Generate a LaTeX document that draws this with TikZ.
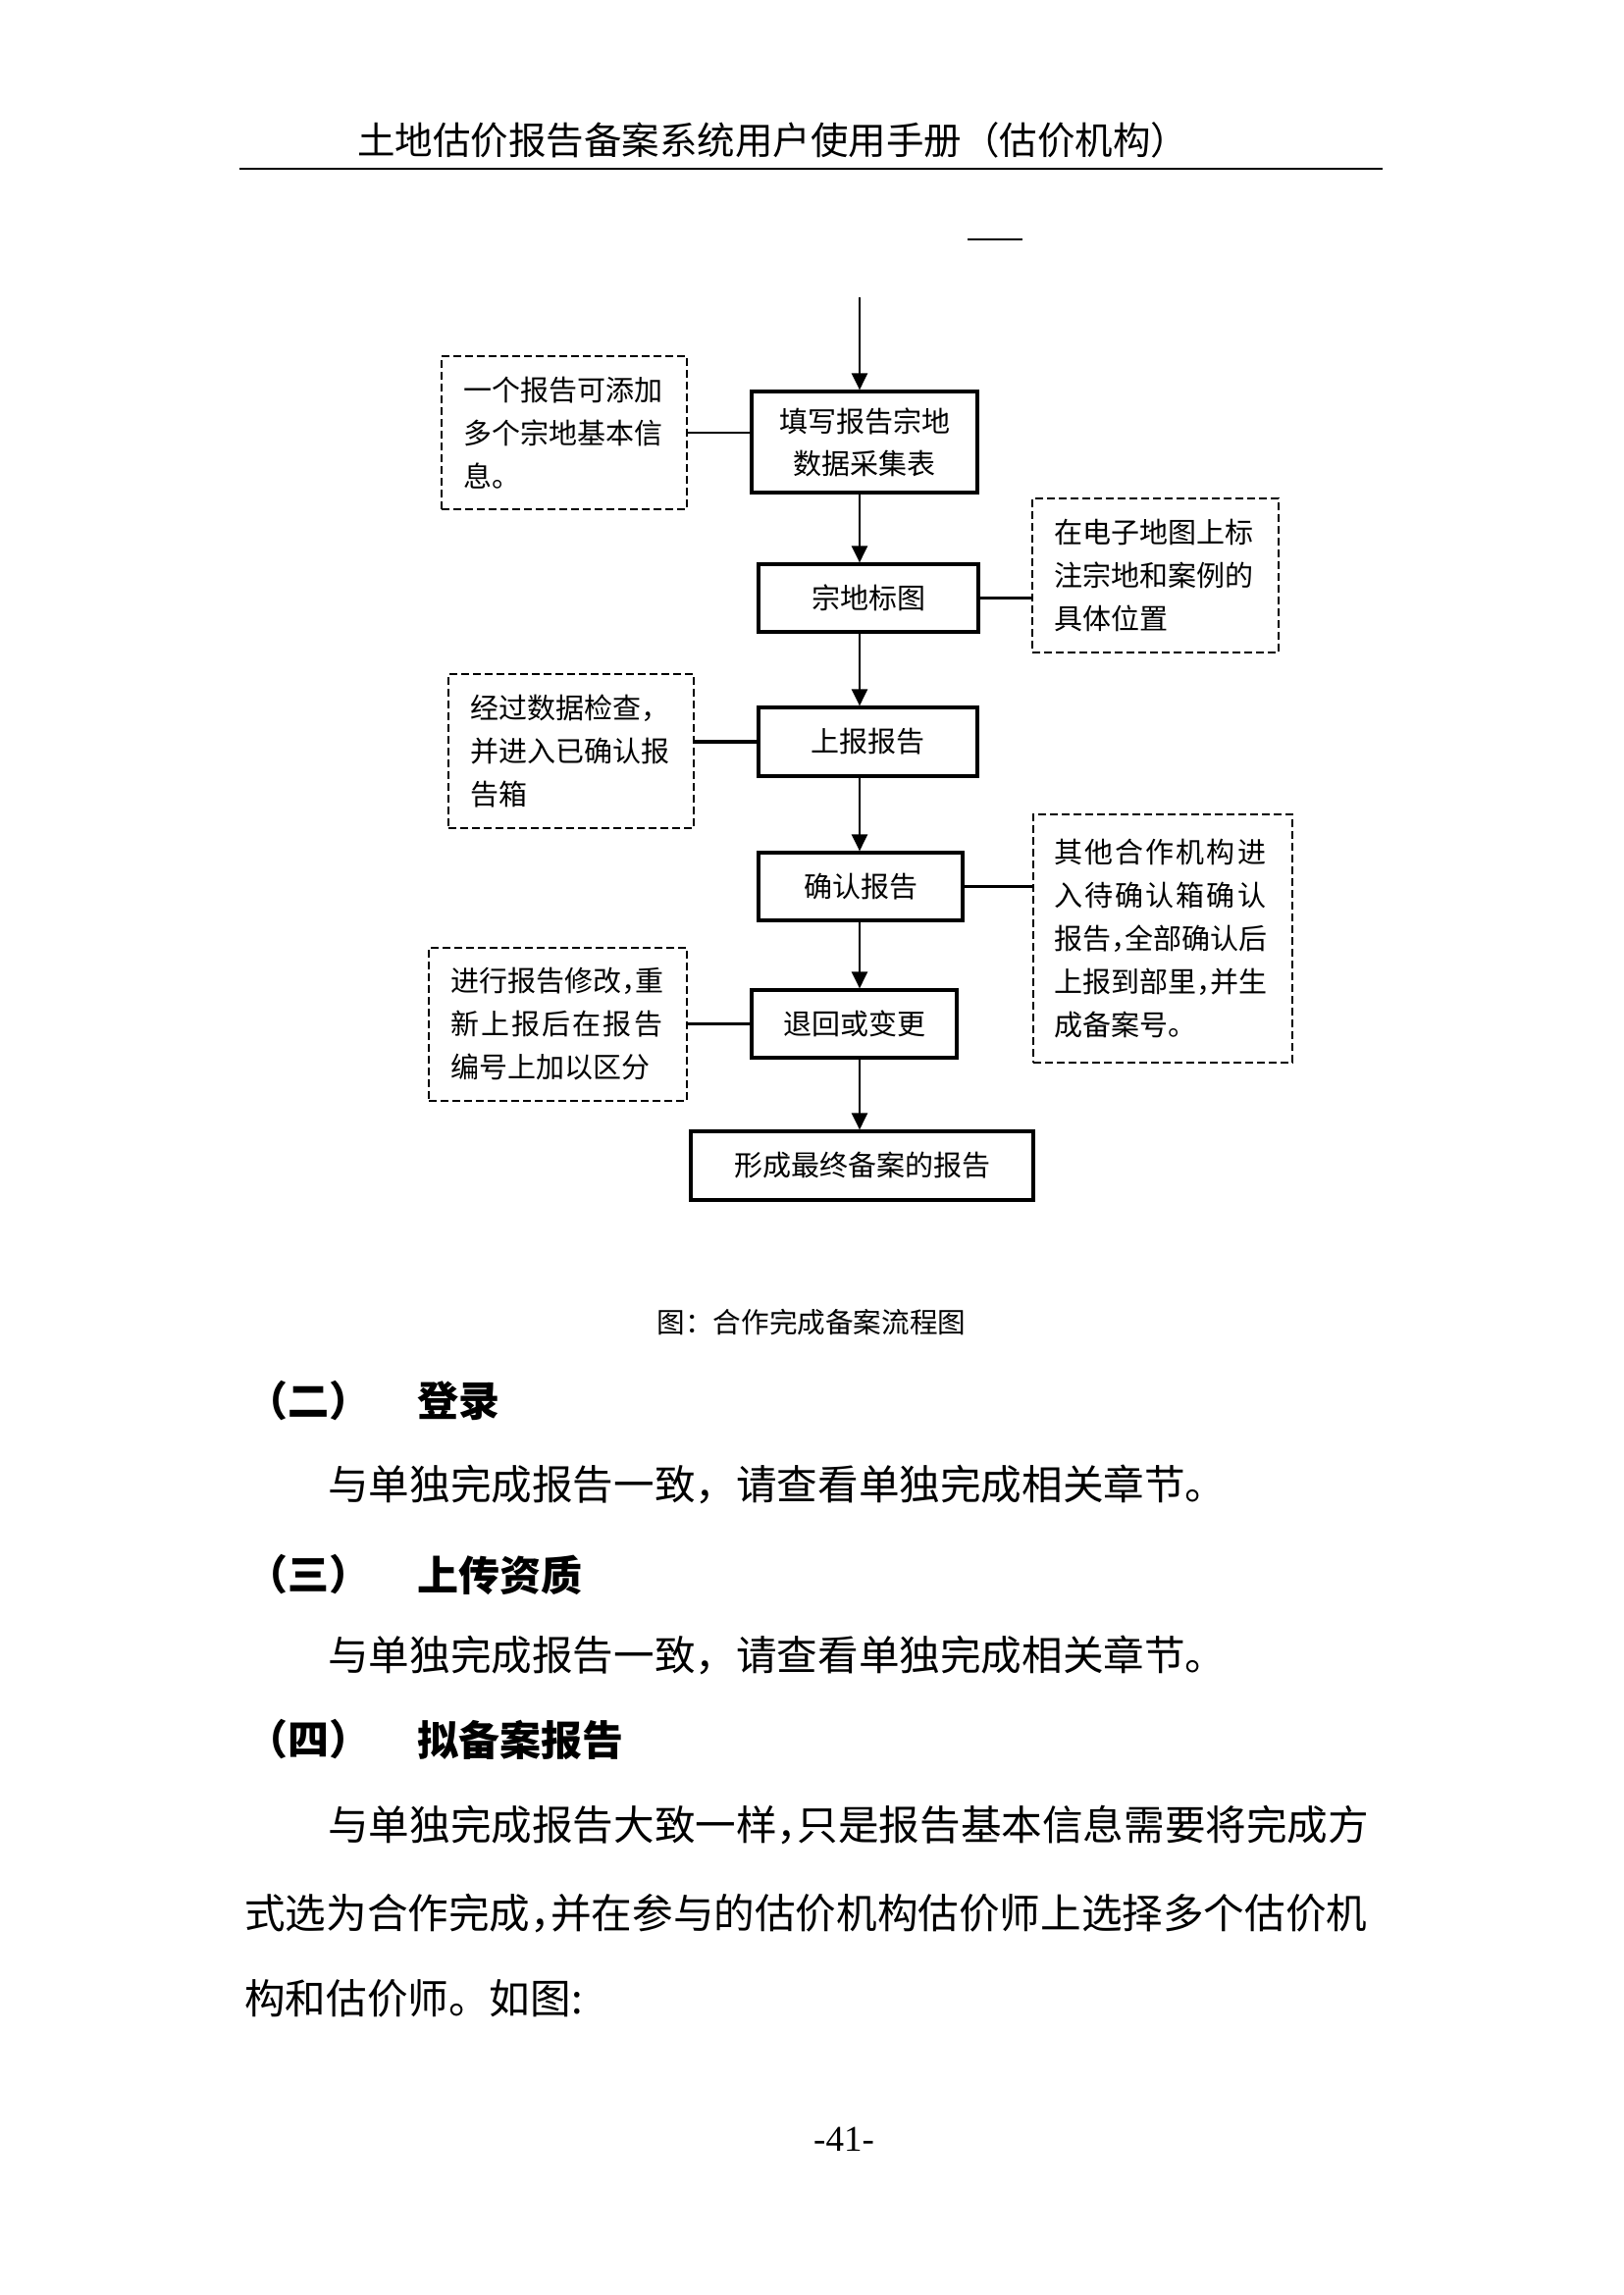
\documentclass[tikz,border=0pt]{standalone}
\usepackage{fontspec}
\setmainfont{Noto Sans CJK SC}
\newfontfamily\numfont{Liberation Serif}
\usetikzlibrary{arrows.meta, positioning}

\newcommand\hcomma{\makebox[0.5em][l]{，}}
\newcommand\spreadline[2][7.5]{{\addfontfeature{LetterSpace=#1}#2}}

\begin{document}
\begin{tikzpicture}[x=1pt, y=-1pt, >={Triangle[length=17pt, width=16pt]},
   flowbox/.style={draw, line width=3.2pt, inner sep=0pt, align=center,
                   font=\fontsize{29}{43}\selectfont},
   remark/.style={draw, dash pattern=on 8pt off 4pt, line width=2.8pt, align=left,
                  inner xsep=22pt, inner ysep=0pt, font=\fontsize{29}{44}\selectfont},
   joinline/.style={line width=2.3pt},
   flowarrow/.style={->, line width=2.3pt},
   secthead/.style={anchor=west, inner sep=0pt, font=\fontsize{42}{44}\selectfont\bfseries},
   bodytext/.style={anchor=west, inner sep=0pt, font=\fontsize{41.6}{44}\selectfont}]

   \path[use as bounding box, fill=white] (0,0) rectangle (1654,2339);

   % Page head
      \node[anchor=west, inner sep=0pt, font=\fontsize{38.5}{40}\selectfont] (title) at (364,143)
           {土地估价报告备案系统用户使用手册（估价机构）};
      \draw[line width=2.5pt] (244,172) -- (1409,172);
      \draw[line width=2.5pt] (986,244) -- (1042,244);

   % Nodes
      \coordinate (top) at (876,303);
      \node[flowbox, minimum width=230pt, minimum height=103pt] (fill)    at (881,450.5) {填写报告宗地\\数据采集表};
      \node[flowbox, minimum width=224pt, minimum height=69pt]  (mark)    at (885,609.5) {宗地标图};
      \node[flowbox, minimum width=223pt, minimum height=70pt]  (submit)  at (884.5,756)  {上报报告};
      \node[flowbox, minimum width=208pt, minimum height=69pt]  (confirm) at (877,903.5) {确认报告};
      \node[flowbox, minimum width=209pt, minimum height=69pt]  (back)    at (870.5,1043.5) {退回或变更};
      \node[flowbox, minimum width=349pt, minimum height=70pt]  (final)   at (878.5,1188) {形成最终备案的报告};

      \node[remark, text width=206pt, minimum height=156pt] (nfill)    at (575,441)
           {一个报告可添加\\多个宗地基本信\\息。};
      \node[remark, text width=207pt, minimum height=157pt] (nmark)    at (1177.5,586.5)
           {在电子地图上标\\注宗地和案例的\\具体位置};
      \node[remark, text width=206pt, minimum height=157pt] (nsubmit)  at (582,765.5)
           {经过数据检查，\\并进入已确认报\\告箱};
      \node[remark, text width=222pt, inner xsep=21pt, minimum height=253pt] (nconfirm) at (1185,956.5)
           {\spreadline{其他合作机构进}\\\spreadline{入待确认箱确认}\\报告\hcomma 全部确认后\\上报到部里\hcomma 并生\\成备案号。\\[6pt]};
      \node[remark, text width=219pt, minimum height=156pt] (nback)    at (568.5,1044)
           {进行报告修改\hcomma 重\\\spreadline{新上报后在报告}\\编号上加以区分};

      \node[font=\fontsize{28.6}{30}\selectfont] (caption) at (827,1348) {图：合作完成备案流程图};

   % Paths
      \path (top)                  edge[flowarrow] (top |- fill.north);
      \path (fill.south -| top)    edge[flowarrow] (mark.north -| top);
      \path (mark.south -| top)    edge[flowarrow] (submit.north -| top);
      \path (submit.south -| top)  edge[flowarrow] (confirm.north -| top);
      \path (confirm.south -| top) edge[flowarrow] (back.north -| top);
      \path (back.south -| top)    edge[flowarrow] (final.north -| top);

      \path (nfill.east)    edge[joinline] (nfill.east -| fill.west);
      \path (mark.east)     edge[joinline] (mark.east -| nmark.west);
      \path (submit.west)   edge[joinline, line width=3.4pt] (submit.west -| nsubmit.east);
      \path (confirm.east)  edge[joinline] (confirm.east -| nconfirm.west);
      \path (back.west)     edge[joinline] (back.west -| nback.east);

   % Text below
      \node[secthead] (h2n) at (251,1428) {（二）};
      \node[secthead] (h2)  at (425,1428) {登录};
      \node[bodytext] (t2)  at (334,1513) {与单独完成报告一致，请查看单独完成相关章节。};
      \node[secthead] (h3n) at (251,1605) {（三）};
      \node[secthead] (h3)  at (425,1605) {上传资质};
      \node[bodytext] (t3)  at (334,1687) {与单独完成报告一致，请查看单独完成相关章节。};
      \node[secthead] (h4n) at (251,1773) {（四）};
      \node[secthead] (h4)  at (425,1773) {拟备案报告};
      \node[bodytext] (t4a) at (334,1860) {与单独完成报告大致一样\hcomma 只是报告基本信息需要将完成方};
      \node[bodytext] (t4b) at (249,1950) {式选为合作完成\hcomma 并在参与的估价机构估价师上选择多个估价机};
      \node[bodytext] (t4c) at (249,2037) {构和估价师。如图:};

      \node[font=\numfont\fontsize{37}{40}\selectfont] (page) at (860,2180) {-41-};
   \end{tikzpicture}
\end{document}
